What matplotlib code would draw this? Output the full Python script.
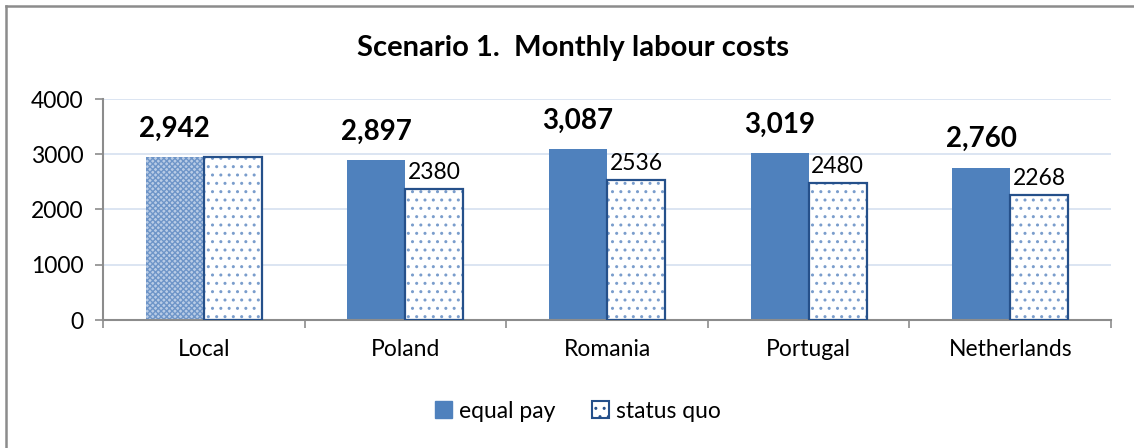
import numpy as np
import matplotlib
matplotlib.use("Agg")
import matplotlib.pyplot as plt
from matplotlib.patches import Patch
from matplotlib.lines import Line2D

plt.rcParams['font.family'] = ['Lato', 'DejaVu Sans']
plt.rcParams['hatch.linewidth'] = 1.0

countries = ["Local", "Poland", "Romania", "Portugal", "Netherlands"]
equal_pay = [2942, 2897, 3087, 3019, 2760]
status_quo = [2942, 2380, 2536, 2480, 2268]
show_sq_label = [False, True, True, True, True]

blue = '#4F81BD'
dark = '#25508A'
grid_col = '#D6E0F0'
axis_col = '#8C8C8C'
w = 0.288
fs = 16.5

fig = plt.figure(figsize=(11.34, 4.48), dpi=100)
ax = fig.add_axes([103/1134, 1-320/448, (1111-103)/1134, (320-99)/448])

x = np.arange(len(countries))

for i in x:
    if i == 0:
        ax.bar(i - w/2, equal_pay[i], w, color='#B9CCE6', hatch='xxxxxx',
               edgecolor='#6E95C8', linewidth=0, zorder=2)
    else:
        ax.bar(i - w/2, equal_pay[i], w, color=blue, linewidth=0, zorder=2)
    # dotted status quo bar: dots first, outline on top
    ax.bar(i + w/2, status_quo[i], w, color='white', hatch='..',
           edgecolor='#7A9DCC', linewidth=0, zorder=2)
    ax.bar(i + w/2, status_quo[i], w, color='none', edgecolor=dark,
           linewidth=1.6, zorder=3)

    ax.annotate(f"{equal_pay[i]:,}", (i - w/2, equal_pay[i]),
                xytext=(0, 11), textcoords='offset points',
                ha='center', va='bottom', fontsize=20, fontweight='bold')
    if show_sq_label[i]:
        ax.annotate(str(status_quo[i]), (i + w/2, status_quo[i]),
                    xytext=(0, 4), textcoords='offset points',
                    ha='center', va='bottom', fontsize=fs)

ax.set_xlim(-0.5, len(countries) - 0.5)
ax.set_ylim(0, 4000)
ax.set_yticks([0, 1000, 2000, 3000, 4000])
ax.set_xticks(x)
ax.set_xticklabels(countries)
ax.set_xticks(np.arange(len(countries) + 1) - 0.5, minor=True)
ax.tick_params(axis='x', which='major', length=0, pad=14, labelsize=fs)
ax.tick_params(axis='x', which='minor', length=6, width=1.2, color=axis_col)
ax.tick_params(axis='y', length=6, width=1.2, color=axis_col, pad=8, labelsize=fs)

ax.grid(axis='y', color=grid_col, linewidth=1.2, zorder=0)
ax.set_axisbelow(True)
for s in ['top', 'right']:
    ax.spines[s].set_visible(False)
for s in ['left', 'bottom']:
    ax.spines[s].set_color(axis_col)
    ax.spines[s].set_linewidth(1.5)

fig.text(573/1134, 1-48/448, "Scenario 1.  Monthly labour costs",
         ha='center', va='center', fontsize=21, fontweight='bold')

handles = [Patch(facecolor=blue, edgecolor=blue),
           Patch(facecolor='white', edgecolor=dark, hatch='..', linewidth=1.5)]
fig.legend(handles, ["equal pay", "status quo"], loc='center',
           bbox_to_anchor=(578/1134, 1-411/448), ncol=2, frameon=False,
           fontsize=fs, handlelength=0.75, handleheight=0.75,
           handletextpad=0.3, columnspacing=1.6)

# outer chart border (top and left visible)
fig.add_artist(Line2D([6/1134, 1], [1-6/448, 1-6/448], color='#8C8C8C',
                      linewidth=1.8, transform=fig.transFigure))
fig.add_artist(Line2D([6/1134, 6/1134], [0, 1-6/448], color='#8C8C8C',
                      linewidth=1.8, transform=fig.transFigure))

fig.savefig("out.png", dpi=100)
